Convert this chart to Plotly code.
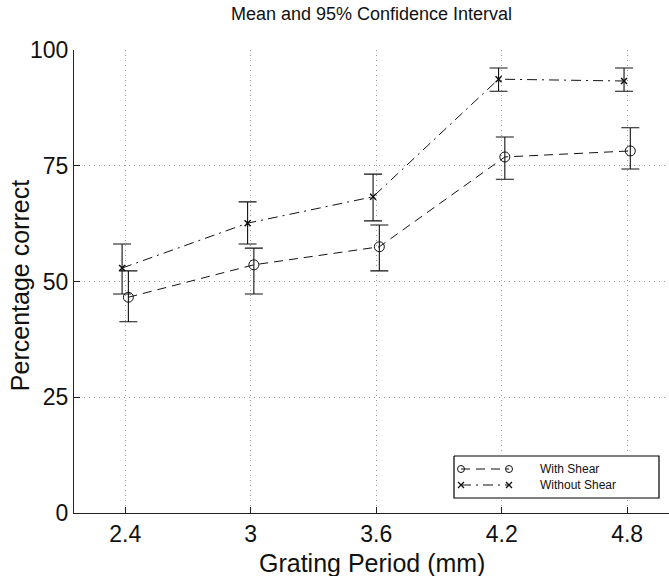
import plotly.graph_objects as go

# Grating periods (mm) and percentage-correct summaries (mean with 95% CI bounds)
periods = [2.4, 3.0, 3.6, 4.2, 4.8]
period_labels = ["2.4", "3", "3.6", "4.2", "4.8"]

with_shear_mean = [46.6, 53.6, 57.5, 76.9, 78.2]
with_shear_lo = [41.3, 47.3, 52.3, 72.1, 74.3]
with_shear_hi = [52.3, 57.2, 62.2, 81.2, 83.2]

without_shear_mean = [52.9, 62.6, 68.3, 93.7, 93.3]
without_shear_lo = [47.3, 58.1, 63.1, 91.1, 91.1]
without_shear_hi = [58.1, 67.2, 73.2, 96.1, 96.1]

y_ticks = [0, 25, 50, 75, 100]

FONT = "Liberation Sans, Arial, Helvetica, sans-serif"
INK = "#111111"
SHIFT = 0.015  # small horizontal dodge so the two error bars don't overlap

x_with = [p + SHIFT for p in periods]
x_without = [p - SHIFT for p in periods]


def err(mean, lo, hi):
    return dict(
        type="data",
        symmetric=False,
        array=[h - m for m, h in zip(mean, hi)],
        arrayminus=[m - l for m, l in zip(mean, lo)],
        width=9,
        thickness=1.1,
        color=INK,
    )


fig = go.Figure()

fig.add_trace(go.Scatter(
    x=x_with, y=with_shear_mean, mode="lines+markers", name="With Shear",
    line=dict(color=INK, width=1, dash="9px,6px"),
    marker=dict(symbol="circle-open", size=10, color=INK, line=dict(width=1, color=INK)),
    error_y=err(with_shear_mean, with_shear_lo, with_shear_hi),
    showlegend=False,
))
fig.add_trace(go.Scatter(
    x=x_without, y=without_shear_mean, mode="lines+markers", name="Without Shear",
    line=dict(color=INK, width=1, dash="10px,5px,2px,5px"),
    marker=dict(symbol="x-thin-open", size=6, color=INK, line=dict(width=1.5, color=INK)),
    error_y=err(without_shear_mean, without_shear_lo, without_shear_hi),
    showlegend=False,
))

# Boxed key in its own small subplot, drawn over the grid of the main axes
key_w, key_h = 205, 42
fig.add_trace(go.Scatter(
    x=[0, key_w, key_w, 0, 0], y=[0, 0, key_h, key_h, 0],
    mode="lines", fill="toself", fillcolor="white",
    line=dict(color="black", width=1.2),
    xaxis="x2", yaxis="y2", hoverinfo="skip", showlegend=False,
))
key_rows = [
    ("With Shear", 13, "9px,6px", "circle-open", 7, 1),
    ("Without Shear", 29, "10px,5px,2px,5px", "x-thin-open", 6, 1.3),
]
for label, ky, dash, sym, msize, mw in key_rows:
    fig.add_trace(go.Scatter(
        x=[7, 55], y=[ky, ky], mode="lines+markers",
        line=dict(color=INK, width=1, dash=dash),
        marker=dict(symbol=sym, size=msize, color=INK, line=dict(width=mw, color=INK)),
        xaxis="x2", yaxis="y2", hoverinfo="skip", showlegend=False, cliponaxis=False,
    ))
    fig.add_annotation(
        x=84, y=ky, xref="x2", yref="y2", text=label, showarrow=False,
        xanchor="left", yanchor="middle", font=dict(family=FONT, size=12, color=INK),
    )

axis_common = dict(
    showgrid=True, gridcolor="#9a9a9a", griddash="1px,4px", gridwidth=1,
    zeroline=False, showline=True, linecolor="#222222", linewidth=1.2,
    ticks="inside", ticklen=6, tickcolor="#222222", tickwidth=1,
    tickfont=dict(family=FONT, size=23, color=INK),
)

fig.update_layout(
    width=669, height=576,
    margin=dict(l=74, r=0, t=50, b=63),
    paper_bgcolor="white", plot_bgcolor="white",
    title=dict(
        text="Mean and 95% Confidence Interval",
        x=0.5, xref="paper", xanchor="center",
        y=1 - 14 / 576, yref="container", yanchor="middle",
        font=dict(family=FONT, size=18, color=INK),
    ),
    xaxis=dict(range=[2.155, 5.0], tickvals=periods, ticktext=period_labels, **axis_common),
    yaxis=dict(range=[0, 100], tickvals=y_ticks, **axis_common),
    xaxis2=dict(domain=[379 / 595, 586 / 595], range=[-1, key_w + 1], visible=False, anchor="y2"),
    yaxis2=dict(domain=[14 / 463, 58 / 463], range=[key_h + 1, -1], visible=False, anchor="x2"),
    showlegend=False,
)

fig.add_annotation(
    text="Percentage correct", xref="paper", yref="paper", x=0, y=0.49,
    xshift=-54, textangle=-90, showarrow=False, xanchor="center", yanchor="middle",
    font=dict(family=FONT, size=25, color=INK),
)
fig.add_annotation(
    text="Grating Period (mm)", xref="paper", yref="paper", x=0.5, y=0,
    yshift=-50, showarrow=False, xanchor="center", yanchor="middle",
    font=dict(family=FONT, size=25, color=INK),
)

fig.write_html("out.html")
